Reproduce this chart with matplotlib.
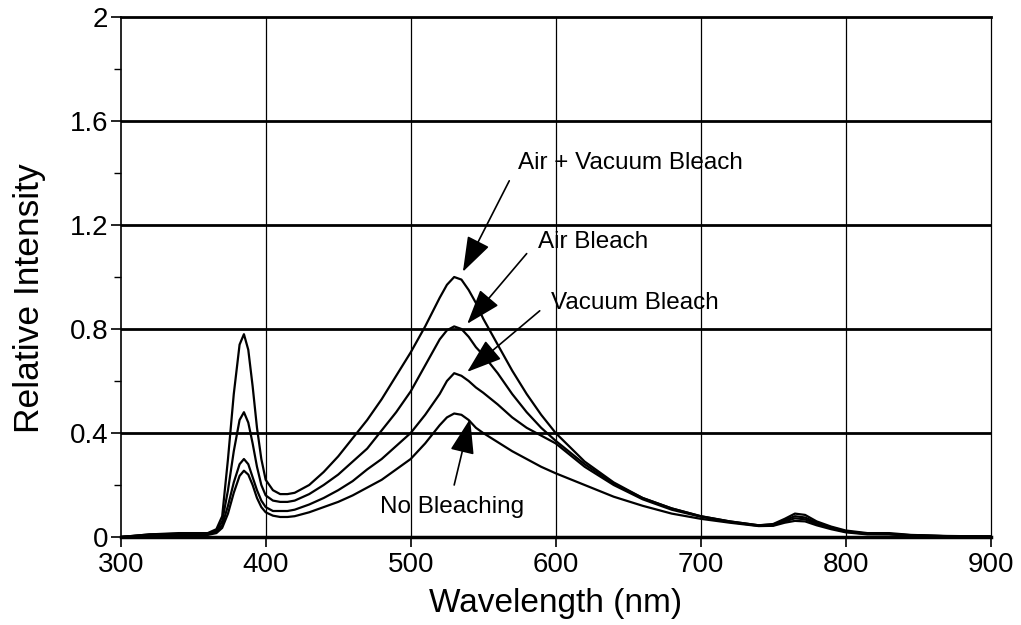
import matplotlib.pyplot as plt
from matplotlib.ticker import FixedLocator

plt.rcParams['font.family'] = ['Liberation Sans', 'DejaVu Sans']

# wavelength grid (nm)
wavelength = [300, 320, 340, 360, 366, 370, 374, 378, 382, 385, 388, 391, 394, 397,
              400, 405, 410, 415, 420, 430, 440, 450, 460, 470, 480, 490, 500, 510,
              520, 525, 530, 535, 540, 545, 550, 560, 570, 580, 590, 600, 620, 640,
              660, 680, 700, 720, 740, 750, 758, 765, 772, 780, 790, 800, 815, 830,
              845, 870, 900]

air_vacuum = [0.0, 0.01, 0.015, 0.015, 0.03, 0.08, 0.30, 0.55, 0.74, 0.78, 0.72, 0.58, 0.42, 0.30,
              0.22, 0.18, 0.165, 0.165, 0.17, 0.20, 0.25, 0.31, 0.38, 0.45, 0.53, 0.62, 0.71, 0.81,
              0.92, 0.97, 1.0, 0.99, 0.95, 0.90, 0.84, 0.74, 0.64, 0.55, 0.47, 0.40, 0.29, 0.21,
              0.15, 0.11, 0.08, 0.06, 0.045, 0.05, 0.07, 0.09, 0.085, 0.06, 0.04, 0.025, 0.015, 0.015,
              0.008, 0.004, 0.002]

air = [0.0, 0.01, 0.012, 0.012, 0.025, 0.06, 0.18, 0.33, 0.45, 0.48, 0.44, 0.36, 0.27, 0.20,
       0.16, 0.14, 0.135, 0.135, 0.14, 0.165, 0.20, 0.24, 0.29, 0.34, 0.41, 0.48, 0.56, 0.66,
       0.76, 0.795, 0.81, 0.80, 0.77, 0.73, 0.70, 0.63, 0.55, 0.48, 0.42, 0.37, 0.28, 0.205,
       0.15, 0.11, 0.08, 0.06, 0.045, 0.048, 0.065, 0.08, 0.075, 0.055, 0.037, 0.022, 0.013, 0.012,
       0.007, 0.003, 0.002]

vacuum = [0.0, 0.008, 0.01, 0.01, 0.02, 0.045, 0.12, 0.21, 0.28, 0.30, 0.28, 0.23, 0.18, 0.14,
          0.115, 0.10, 0.10, 0.10, 0.105, 0.125, 0.15, 0.18, 0.215, 0.26, 0.30, 0.35, 0.40, 0.47,
          0.55, 0.60, 0.63, 0.62, 0.60, 0.575, 0.555, 0.51, 0.46, 0.42, 0.39, 0.36, 0.27, 0.20,
          0.145, 0.105, 0.078, 0.058, 0.043, 0.045, 0.06, 0.072, 0.068, 0.05, 0.034, 0.02, 0.012, 0.011,
          0.006, 0.003, 0.002]

no_bleach = [0.0, 0.006, 0.008, 0.008, 0.015, 0.035, 0.09, 0.17, 0.235, 0.255, 0.24, 0.20, 0.15, 0.115,
             0.095, 0.082, 0.077, 0.077, 0.08, 0.095, 0.115, 0.135, 0.16, 0.19, 0.22, 0.26, 0.30, 0.36,
             0.43, 0.46, 0.475, 0.47, 0.45, 0.42, 0.40, 0.365, 0.33, 0.30, 0.27, 0.245, 0.20, 0.155,
             0.12, 0.09, 0.07, 0.055, 0.042, 0.043, 0.055, 0.062, 0.06, 0.045, 0.03, 0.018, 0.01, 0.01,
             0.005, 0.002, 0.001]

y_ticks = [0, 0.4, 0.8, 1.2, 1.6, 2]
y_labels = ['0', '0.4', '0.8', '1.2', '1.6', '2']
x_ticks = [300, 400, 500, 600, 700, 800, 900]

# label text, text position, arrow tail, arrow tip
labels = ['Air + Vacuum Bleach', 'Air Bleach', 'Vacuum Bleach', 'No Bleaching']
text_xy = [(574, 1.44), (588, 1.135), (597, 0.90), (479, 0.115)]
tail_xy = [(568, 1.37), (580, 1.09), (589, 0.87), (530, 0.20)]
tip_xy = [(536, 1.02), (539, 0.82), (539, 0.635), (541, 0.455)]

fig = plt.figure(figsize=(10.21, 6.25), dpi=100)
ax = fig.add_axes([0.1182, 0.1408, 0.8521, 0.832])

for s in [air_vacuum, air, vacuum, no_bleach]:
    ax.plot(wavelength, s, color='black', lw=1.6)

ax.set_xlim(300, 900)
ax.set_ylim(0, 2)
ax.set_xticks(x_ticks)
ax.set_yticks(y_ticks)
ax.set_yticklabels(y_labels)
ax.yaxis.set_minor_locator(FixedLocator([0.2, 0.6, 1.0, 1.4, 1.8]))
ax.tick_params(axis='both', which='major', labelsize=20, length=7, width=1.2, direction='out')
ax.tick_params(axis='x', which='major', pad=4)
ax.tick_params(axis='y', which='major', pad=2)
ax.tick_params(axis='y', which='minor', length=5, width=1.0, direction='out')

for v in [400, 500, 600, 700, 800]:
    ax.axvline(v, color='black', lw=0.9, zorder=0)
for h in [0.4, 0.8, 1.2, 1.6]:
    ax.axhline(h, color='black', lw=2.0, zorder=0)

ax.spines['top'].set_linewidth(2.0)
ax.spines['bottom'].set_linewidth(2.5)
ax.spines['left'].set_linewidth(1.2)
ax.spines['right'].set_linewidth(0.9)

ax.set_xlabel('Wavelength (nm)', fontsize=24)
ax.set_ylabel('Relative Intensity', fontsize=25.5)
ax.xaxis.set_label_coords(0.5, -0.098)
ax.yaxis.set_label_coords(-0.086, 0.46)

for lab, txy, a, b in zip(labels, text_xy, tail_xy, tip_xy):
    ax.text(txy[0], txy[1], lab, fontsize=17.5, ha='left', va='center')
    ax.annotate('', xy=b, xytext=a,
                arrowprops=dict(arrowstyle='-|>,head_length=1.1,head_width=0.38',
                                mutation_scale=20, color='black', lw=1.2,
                                shrinkA=0, shrinkB=0))

fig.savefig('out.png', dpi=100)
